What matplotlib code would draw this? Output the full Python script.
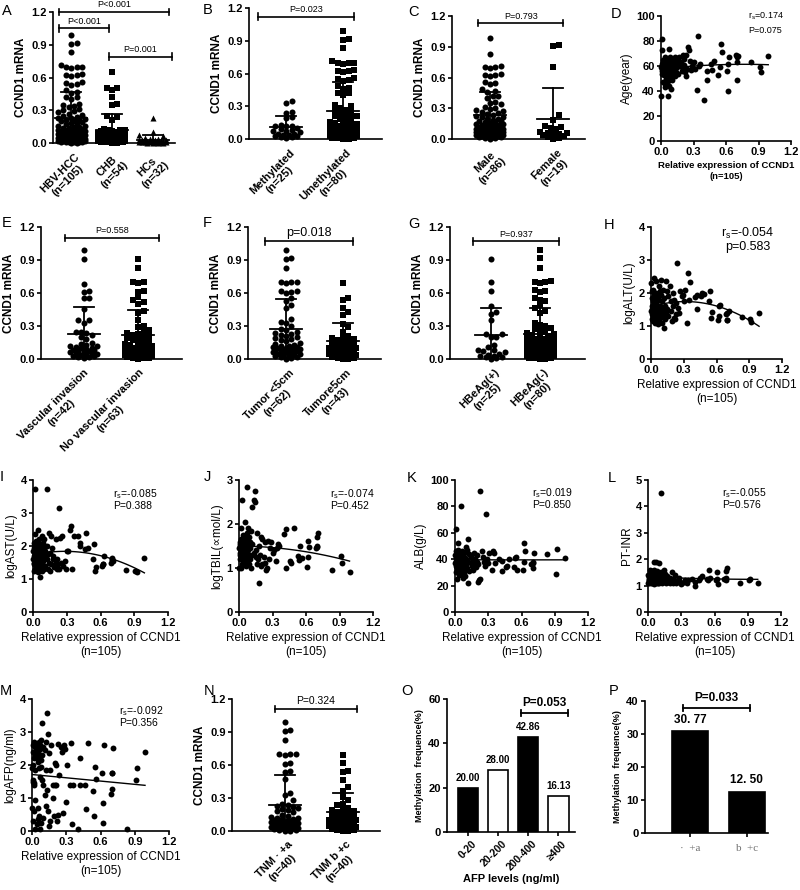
import numpy as np
import matplotlib.pyplot as plt
from matplotlib.transforms import ScaledTranslation

plt.rcParams['font.family'] = ['Liberation Sans', 'DejaVu Sans']
plt.rcParams['mathtext.default'] = 'regular'

# relative CCND1 expression of the 105 HBV-HCC tissues (x of all correlation panels)
ccnd1 = [0.99, 0.92, 0.91, 0.83, 0.71, 0.70, 0.70, 0.69, 0.70, 0.62,
         0.63, 0.61, 0.62, 0.55, 0.56, 0.54, 0.53, 0.49, 0.47, 0.46,
         0.42, 0.42, 0.40, 0.36, 0.35, 0.34, 0.33, 0.31, 0.30, 0.29,
         0.28, 0.27, 0.26, 0.25, 0.24, 0.23, 0.23, 0.22, 0.21, 0.21,
         0.20, 0.20, 0.19, 0.18, 0.18, 0.17, 0.16, 0.16, 0.15, 0.15,
         0.14, 0.14, 0.13, 0.13, 0.12, 0.12, 0.12, 0.11, 0.11, 0.10,
         0.10, 0.10, 0.09, 0.09, 0.09, 0.08, 0.08, 0.08, 0.08, 0.07,
         0.07, 0.07, 0.07, 0.06, 0.06, 0.06, 0.06, 0.05, 0.05, 0.05,
         0.05, 0.05, 0.04, 0.04, 0.04, 0.04, 0.04, 0.03, 0.03, 0.03,
         0.03, 0.03, 0.02, 0.02, 0.02, 0.02, 0.02, 0.01, 0.01, 0.01,
         0.01, 0.01, 0.01, 0.00, 0.00]

age = [68, 55, 59, 63, 68, 63, 49, 69, 67, 40,
       67, 56, 62, 78, 71, 59, 53, 64, 57, 62,
       49, 56, 33, 62, 60, 84, 41, 58, 63, 60,
       57, 64, 73, 75, 58, 52, 69, 55, 61, 66,
       58, 69, 56, 60, 63, 67, 54, 62, 59, 66,
       55, 61, 67, 52, 64, 58, 60, 53, 66, 57,
       63, 49, 59, 42, 65, 56, 61, 54, 67, 44,
       74, 60, 52, 57, 36, 63, 48, 55, 65, 50,
       58, 62, 46, 60, 67, 54, 43, 59, 64, 53,
       57, 61, 47, 65, 55, 60, 63, 73, 58, 54,
       82, 62, 56, 36, 59]

log_alt = [1.38, 1.12, 1.20, 1.27, 1.45, 1.40, 1.17, 1.35, 1.18, 1.30,
           1.65, 1.18, 1.62, 1.25, 1.42, 2.07, 1.75, 1.97, 2.00, 1.90,
           1.50, 1.95, 1.88, 2.32, 1.80, 2.60, 1.10, 2.10, 1.75, 1.95,
           1.90, 2.05, 1.40, 1.55, 2.90, 1.70, 1.35, 1.20, 1.80, 1.25,
           1.60, 2.00, 1.15, 1.45, 1.75, 2.20, 1.30, 1.90, 1.50, 2.05,
           1.40, 2.35, 1.20, 1.60, 1.85, 0.95, 1.45, 2.10, 1.30, 1.75,
           1.50, 1.10, 2.40, 1.35, 1.95, 1.25, 1.60, 1.45, 2.05, 1.15,
           1.80, 1.40, 2.20, 1.05, 1.55, 1.90, 1.30, 1.70, 2.35, 1.20,
           1.45, 2.00, 1.35, 1.65, 1.10, 1.85, 1.50, 2.45, 1.25, 1.70,
           1.95, 1.40, 1.60, 1.15, 2.10, 1.30, 1.75, 1.50, 2.05, 1.35,
           1.85, 1.20, 1.60, 2.30, 1.45]

log_ast = [1.65, 1.20, 1.25, 1.28, 1.55, 1.65, 1.60, 1.50, 1.58, 1.45,
           1.70, 1.40, 1.45, 1.25, 1.35, 2.05, 1.60, 1.95, 2.40, 1.90,
           2.10, 2.00, 2.30, 2.30, 1.30, 2.60, 2.50, 1.85, 1.85, 1.30,
           1.55, 1.40, 2.30, 1.50, 2.25, 3.15, 1.30, 1.45, 1.60, 1.30,
           1.50, 2.20, 1.35, 1.60, 1.70, 1.95, 1.45, 2.30, 1.25, 1.80,
           2.40, 1.50, 1.75, 1.30, 2.00, 3.72, 1.60, 1.85, 1.40, 2.20,
           1.70, 1.30, 1.95, 1.55, 2.10, 1.45, 1.80, 1.25, 2.30, 1.65,
           1.50, 1.90, 1.35, 2.05, 1.60, 1.05, 1.75, 1.40, 2.20, 1.55,
           1.85, 1.30, 2.50, 1.65, 1.45, 2.00, 1.20, 1.75, 1.55, 2.15,
           1.40, 1.90, 1.60, 3.72, 1.30, 1.80, 2.35, 1.50, 1.25, 1.95,
           1.70, 2.10, 1.45, 1.60, 1.85]

log_tbil = [0.92, 1.12, 1.28, 0.96, 1.80, 1.70, 1.48, 1.45, 1.50, 1.62,
            1.47, 1.02, 1.25, 1.50, 1.22, 1.18, 1.28, 1.90, 1.12, 1.15,
            1.88, 1.00, 1.78, 1.50, 1.55, 1.45, 1.15, 1.40, 1.35, 1.60,
            1.45, 1.20, 1.62, 1.00, 0.95, 1.60, 1.12, 1.25, 1.65, 1.10,
            1.70, 1.05, 1.30, 0.65, 1.50, 1.20, 1.80, 1.10, 1.40, 1.25,
            2.75, 2.50, 2.55, 1.35, 1.55, 2.38, 1.30, 1.85, 1.00, 1.60,
            1.45, 1.20, 1.70, 1.30, 1.10, 1.90, 1.40, 1.55, 1.25, 1.65,
            2.85, 1.35, 1.80, 1.15, 1.50, 1.05, 1.45, 1.70, 1.30, 1.25,
            1.60, 2.05, 1.40, 1.20, 1.50, 1.35, 1.75, 1.10, 1.55, 1.30,
            2.55, 1.45, 1.25, 1.65, 1.00, 1.40, 1.90, 1.30, 1.50, 1.60,
            1.35, 1.20, 1.55, 1.00, 1.45]

alb = [41, 48, 29, 44, 45, 38, 33, 36, 37, 52,
       46, 32, 38, 42, 32, 41, 34, 40, 35, 34,
       39, 31, 40, 37, 45, 46, 32, 45, 37, 40,
       74, 35, 38, 42, 46, 92, 25, 24, 23, 36,
       43, 38, 34, 40, 36, 45, 32, 39, 41, 35,
       42, 37, 31, 44, 22, 55, 38, 47, 33, 40,
       36, 49, 27, 41, 39, 34, 45, 30, 38, 43,
       35, 40, 26, 46, 37, 33, 42, 29, 38, 44,
       39, 80, 31, 41, 36, 45, 28, 40, 34, 47,
       38, 52, 33, 42, 36, 25, 44, 39, 46, 63,
       41, 35, 30, 43, 37]

pt_inr = [1.08, 1.25, 1.20, 1.10, 1.65, 1.55, 1.20, 1.25, 1.30, 1.50,
          1.05, 1.20, 1.25, 1.60, 1.30, 1.20, 1.25, 1.35, 1.30, 1.20,
          1.00, 1.15, 1.25, 1.20, 1.10, 1.15, 1.20, 1.10, 1.05, 1.15,
          1.30, 1.20, 1.15, 1.10, 1.40, 1.25, 1.10, 1.50, 1.20, 1.15,
          1.30, 1.10, 1.20, 1.25, 1.15, 1.35, 1.10, 1.20, 1.45, 1.25,
          1.60, 1.20, 1.30, 1.10, 1.50, 4.50, 1.15, 1.25, 1.35, 1.10,
          1.20, 1.85, 1.30, 1.10, 1.40, 1.15, 1.25, 1.55, 1.10, 1.30,
          1.20, 1.90, 1.15, 1.35, 1.10, 1.45, 1.25, 1.05, 1.30, 1.60,
          1.15, 1.90, 1.25, 1.40, 1.10, 1.20, 1.55, 1.30, 1.15, 1.35,
          1.20, 1.10, 1.30, 1.45, 1.15, 1.25, 1.60, 1.10, 1.20, 1.35,
          1.15, 1.30, 1.20, 1.10, 1.40]

log_afp = [2.38, 1.92, 1.55, 0.07, 2.52, 1.77, 1.27, 1.12, 1.77, 0.85,
           2.60, 1.75, 0.25, 1.93, 1.58, 0.45, 1.20, 2.68, 0.68, 1.40,
           2.22, 1.38, 0.07, 1.40, 0.22, 2.68, 1.40, 2.00, 0.88, 2.50,
           2.60, 0.55, 2.40, 2.55, 1.70, 0.50, 2.65, 0.30, 2.00, 1.40,
           1.38, 2.05, 0.45, 1.38, 1.00, 2.60, 0.30, 1.85, 0.15, 2.35,
           0.60, 2.95, 1.25, 3.58, 2.70, 0.75, 1.85, 2.45, 1.10, 0.40,
           2.55, 1.40, 3.28, 1.55, 2.30, 2.15, 0.25, 2.75, 1.95, 1.65,
           2.60, 2.50, 0.05, 2.25, 0.45, 1.90, 2.70, 0.35, 2.40, 2.50,
           0.70, 2.10, 2.20, 2.45, 0.20, 2.60, 2.65, 0.95, 2.30, 0.05,
           1.85, 2.55, 1.40, 1.45, 2.20, 0.60, 2.70, 1.50, 2.40, 0.30,
           2.00, 1.55, 2.62, 0.70, 1.90]

# CCND1 mRNA of control groups
chb = [0.65, 0.50, 0.49, 0.50, 0.42, 0.36, 0.35, 0.25, 0.24, 0.21,
       0.12, 0.11, 0.10, 0.09, 0.08, 0.13, 0.12, 0.12, 0.11, 0.10,
       0.10, 0.09, 0.09, 0.08, 0.08, 0.07, 0.07, 0.07, 0.06, 0.06,
       0.06, 0.05, 0.05, 0.05, 0.05, 0.04, 0.04, 0.04, 0.04, 0.03,
       0.03, 0.03, 0.03, 0.02, 0.02, 0.02, 0.02, 0.02, 0.01, 0.01,
       0.01, 0.01, 0.00, 0.00]
hcs = [0.23, 0.10, 0.07, 0.06, 0.05, 0.04, 0.04, 0.03, 0.03, 0.03,
       0.03, 0.03, 0.02, 0.02, 0.02, 0.02, 0.02, 0.02, 0.02, 0.02,
       0.01, 0.01, 0.01, 0.01, 0.01, 0.01, 0.01, 0.01, 0.00, 0.00,
       0.00, 0.00]

# subgroups of the HBV-HCC patients
methylated = [0.35, 0.33, 0.25, 0.24, 0.20, 0.19, 0.13, 0.12, 0.12, 0.12,
              0.10, 0.09, 0.08, 0.07, 0.07, 0.06, 0.05, 0.05, 0.04, 0.04,
              0.03, 0.03, 0.02, 0.02, 0.01]
unmethylated = [0.99, 0.92, 0.91, 0.83, 0.71, 0.70, 0.70, 0.69, 0.70, 0.62,
                0.63, 0.61, 0.62, 0.55, 0.56, 0.54, 0.53, 0.49, 0.47, 0.46,
                0.42, 0.42, 0.40, 0.31, 0.30, 0.28, 0.27, 0.26, 0.25, 0.23,
                0.22, 0.21, 0.21, 0.20, 0.18, 0.17, 0.16, 0.15, 0.15, 0.14,
                0.14, 0.13, 0.13, 0.12, 0.11, 0.11, 0.10, 0.10, 0.09, 0.09,
                0.08, 0.08, 0.08, 0.07, 0.07, 0.07, 0.06, 0.06, 0.06, 0.06,
                0.05, 0.05, 0.05, 0.04, 0.04, 0.04, 0.04, 0.03, 0.03, 0.03,
                0.03, 0.02, 0.02, 0.02, 0.02, 0.01, 0.01, 0.01, 0.00, 0.00]
male = [0.99, 0.83, 0.71, 0.70, 0.69, 0.70, 0.62, 0.63, 0.61, 0.62,
        0.55, 0.56, 0.54, 0.49, 0.47, 0.46, 0.42, 0.42, 0.40, 0.36,
        0.35, 0.34, 0.31, 0.30, 0.29, 0.28, 0.27, 0.26, 0.25, 0.24,
        0.23, 0.22, 0.21, 0.21, 0.20, 0.20, 0.19, 0.18, 0.18, 0.17,
        0.16, 0.16, 0.15, 0.15, 0.14, 0.14, 0.13, 0.13, 0.12, 0.12,
        0.12, 0.11, 0.11, 0.10, 0.10, 0.09, 0.09, 0.09, 0.08, 0.08,
        0.08, 0.08, 0.07, 0.07, 0.07, 0.07, 0.06, 0.06, 0.06, 0.05,
        0.05, 0.05, 0.05, 0.04, 0.04, 0.04, 0.04, 0.03, 0.03, 0.03,
        0.02, 0.02, 0.02, 0.01, 0.01, 0.00]
female = [0.92, 0.91, 0.70, 0.23, 0.19, 0.13, 0.12, 0.11, 0.10, 0.07,
          0.06, 0.06, 0.05, 0.05, 0.04, 0.03, 0.02, 0.01, 0.00]
vasc_inv = [0.99, 0.91, 0.68, 0.62, 0.61, 0.55, 0.55, 0.45, 0.35, 0.35,
            0.33, 0.25, 0.25, 0.24, 0.22, 0.20, 0.18, 0.15, 0.14, 0.13,
            0.12, 0.12, 0.11, 0.10, 0.10, 0.09, 0.08, 0.08, 0.07, 0.07,
            0.06, 0.06, 0.05, 0.05, 0.05, 0.04, 0.04, 0.03, 0.03, 0.02,
            0.02, 0.01]
no_vasc_inv = [0.91, 0.83, 0.70, 0.70, 0.69, 0.62, 0.61, 0.56, 0.54, 0.52,
               0.50, 0.44, 0.42, 0.35, 0.29, 0.30, 0.26, 0.25, 0.24, 0.23,
               0.22, 0.21, 0.20, 0.19, 0.18, 0.17, 0.16, 0.15, 0.14, 0.13,
               0.13, 0.12, 0.12, 0.11, 0.10, 0.10, 0.09, 0.09, 0.08, 0.08,
               0.08, 0.07, 0.07, 0.07, 0.06, 0.06, 0.06, 0.05, 0.05, 0.05,
               0.04, 0.04, 0.04, 0.03, 0.03, 0.03, 0.02, 0.02, 0.02, 0.01,
               0.01, 0.01, 0.00]
tumor_small = [0.99, 0.92, 0.91, 0.83, 0.70, 0.70, 0.70, 0.69, 0.62, 0.62,
               0.61, 0.60, 0.55, 0.53, 0.49, 0.46, 0.36, 0.34, 0.33, 0.30,
               0.27, 0.26, 0.25, 0.24, 0.23, 0.22, 0.21, 0.20, 0.19, 0.18,
               0.17, 0.16, 0.15, 0.14, 0.13, 0.12, 0.12, 0.11, 0.11, 0.10,
               0.10, 0.09, 0.09, 0.08, 0.08, 0.08, 0.07, 0.07, 0.07, 0.06,
               0.06, 0.06, 0.05, 0.05, 0.04, 0.04, 0.03, 0.03, 0.02, 0.02,
               0.01, 0.00]
tumor_large = [0.69, 0.55, 0.54, 0.46, 0.43, 0.40, 0.32, 0.29, 0.25, 0.21,
               0.20, 0.19, 0.18, 0.17, 0.16, 0.15, 0.14, 0.13, 0.12, 0.12,
               0.11, 0.10, 0.10, 0.09, 0.09, 0.08, 0.08, 0.07, 0.07, 0.06,
               0.06, 0.05, 0.05, 0.04, 0.04, 0.03, 0.03, 0.02, 0.02, 0.01,
               0.01, 0.00, 0.00]
hbeag_pos = [0.91, 0.70, 0.62, 0.48, 0.43, 0.41, 0.35, 0.23, 0.23, 0.20,
             0.20, 0.13, 0.11, 0.08, 0.08, 0.07, 0.06, 0.05, 0.04, 0.03,
             0.03, 0.02, 0.02, 0.01, 0.00]
hbeag_neg = [0.99, 0.92, 0.83, 0.71, 0.70, 0.69, 0.70, 0.63, 0.62, 0.61,
             0.55, 0.54, 0.53, 0.49, 0.46, 0.44, 0.42, 0.33, 0.31, 0.30,
             0.28, 0.27, 0.26, 0.25, 0.24, 0.23, 0.22, 0.21, 0.21, 0.20,
             0.19, 0.18, 0.18, 0.17, 0.16, 0.16, 0.15, 0.15, 0.14, 0.14,
             0.13, 0.13, 0.12, 0.12, 0.12, 0.11, 0.11, 0.10, 0.10, 0.10,
             0.09, 0.09, 0.09, 0.08, 0.08, 0.08, 0.07, 0.07, 0.07, 0.06,
             0.06, 0.06, 0.05, 0.05, 0.05, 0.05, 0.04, 0.04, 0.04, 0.03,
             0.03, 0.03, 0.02, 0.02, 0.02, 0.01, 0.01, 0.01, 0.00, 0.00]
tnm_a = [0.99, 0.92, 0.91, 0.83, 0.70, 0.70, 0.70, 0.69, 0.62, 0.61,
         0.55, 0.54, 0.47, 0.35, 0.33, 0.28, 0.25, 0.24, 0.23, 0.22,
         0.21, 0.20, 0.19, 0.18, 0.17, 0.15, 0.14, 0.13, 0.12, 0.12,
         0.11, 0.11, 0.10, 0.10, 0.09, 0.09, 0.08, 0.08, 0.08, 0.07,
         0.07, 0.07, 0.06, 0.06, 0.06, 0.05, 0.05, 0.05, 0.04, 0.04,
         0.04, 0.03, 0.03, 0.03, 0.02, 0.02, 0.01, 0.01, 0.00, 0.00]
tnm_bc = [0.69, 0.62, 0.55, 0.54, 0.46, 0.40, 0.36, 0.31, 0.28, 0.25,
          0.24, 0.21, 0.20, 0.19, 0.18, 0.17, 0.16, 0.15, 0.14, 0.13,
          0.12, 0.12, 0.11, 0.10, 0.10, 0.09, 0.09, 0.08, 0.08, 0.07,
          0.07, 0.06, 0.06, 0.05, 0.05, 0.04, 0.04, 0.03, 0.03, 0.02,
          0.02, 0.01, 0.01, 0.00, 0.00]

# methylation frequency (%)
afp_levels = ['0-20', '20-200', '200-400', '≥400']
afp_freq = [20.00, 28.00, 42.86, 16.13]
afp_fill = ['black', 'white', 'black', 'white']
tnm_stage = ['·  +a', 'b  +c']
tnm_freq = [30.77, 12.50]
tnm_labels = ['30. 77', '12. 50']

W, H = 800, 890
fig = plt.figure(figsize=(8, 8.9), dpi=100)


def rect(x0, y0, x1, y1):
    # pixel box (top-left origin) -> figure fraction
    return [x0 / W, 1 - y1 / H, (x1 - x0) / W, (y1 - y0) / H]


def ftext(x, y, s, **kw):
    kw.setdefault('va', 'top')
    fig.text(x / W, 1 - y / H, s, **kw)


def clean(ax):
    ax.spines[['top', 'right']].set_visible(False)
    ax.spines[['left', 'bottom']].set_linewidth(1.2)
    ax.tick_params(width=1.2, length=3, labelsize=8, pad=1.5)


def shift_labels(ax, dx, dy):
    off = ScaledTranslation(dx / 100, dy / 100, fig.dpi_scale_trans)
    for lab in ax.get_xticklabels():
        lab.set_transform(lab.get_transform() + off)


def swarm_x(ax, xc, vals, d, maxw):
    # crude beeswarm: pixel space, nearest free slot to the column centre
    t = ax.transData
    ypx = t.transform(np.column_stack([np.full(len(vals), xc), vals]))[:, 1]
    sx = t.transform((1, 0))[0] - t.transform((0, 0))[0]
    step = d * 0.5
    cands = [0.0]
    k = 1
    while k * step <= maxw:
        cands += [k * step, -k * step]
        k += 1
    px, py = [], []
    off = np.zeros(len(vals))
    for i in np.argsort(ypx):
        y = ypx[i]
        best, bestd = 0.0, -1.0
        for c in cands:
            dist = np.min(np.hypot(np.array(px) - c, np.array(py) - y)) if px else np.inf
            if dist >= d:
                best = c
                break
            if dist > bestd:
                best, bestd = c, dist
        off[i] = best
        px.append(best)
        py.append(y)
    return xc + off / sx, sx


def dotplot(box, xlim, groups, markers, labels, brackets, pfs=6.5, dx=3):
    ax = fig.add_axes(rect(*box))
    clean(ax)
    ax.set_xlim(*xlim)
    ax.set_ylim(0, 1.2)
    yt = [0, 0.3, 0.6, 0.9, 1.2]
    ax.set_yticks(yt, [f'{v:.1f}' for v in yt], fontweight='bold')
    ax.set_xticks(range(len(groups)), labels, rotation=45, ha='right',
                  rotation_mode='anchor', ma='center', fontweight='bold', fontsize=8)
    ax.tick_params(axis='x', length=0, pad=6)
    shift_labels(ax, dx, 0)
    ax.set_ylabel('CCND1 mRNA', fontweight='bold', fontsize=8.5, labelpad=3)
    for i, (vals, m) in enumerate(zip(groups, markers)):
        v = np.array(vals)
        xs, sx = swarm_x(ax, i, v, 5.4, 15)
        ax.scatter(xs, v, s=19, marker=m, c='black', lw=0, clip_on=False, zorder=3)
        mu, sd = v.mean(), v.std(ddof=1)
        hm, hc = 16 / sx, 10 / sx
        ax.plot([i - hm, i + hm], [mu, mu], 'k', lw=1.3, zorder=4)
        ax.plot([i, i], [max(mu - sd, 0), mu + sd], 'k', lw=1.3, zorder=4)
        ax.plot([i - hc, i + hc], [mu + sd] * 2, 'k', lw=1.3, zorder=4)
    for x0, x1, yb, txt in brackets:
        ax.plot([x0, x1], [yb, yb], 'k', lw=1.2, clip_on=False)
        for xe in (x0, x1):
            ax.plot([xe, xe], [yb - 0.03, yb + 0.03], 'k', lw=1.2, clip_on=False)
        ax.text((x0 + x1) / 2, yb + 0.025, txt, ha='center', va='bottom', fontsize=pfs)
    return ax


def corr_panel(box, y, ylim, yticks, ylabel, deg=2, xlab_fs=8.5, xlab_bold=False):
    ax = fig.add_axes(rect(*box))
    clean(ax)
    ax.set_xlim(0, 1.2)
    ax.set_ylim(*ylim)
    xt = [0, 0.3, 0.6, 0.9, 1.2]
    ax.set_xticks(xt, [f'{v:.1f}' for v in xt], fontweight='bold')
    ax.set_yticks(yticks, [str(t) for t in yticks], fontweight='bold')
    x = np.array(ccnd1)
    yv = np.array(y, dtype=float)
    ax.scatter(x, yv, s=18, c='black', lw=0, clip_on=False, zorder=3)
    coef = np.polyfit(x, yv, deg)
    xf = np.linspace(x.min(), x.max(), 100)
    ax.plot(xf, np.polyval(coef, xf), 'k', lw=1.0, zorder=4)
    ax.set_ylabel(ylabel, fontsize=8.5, labelpad=2)
    ax.set_xlabel('Relative expression of CCND1\n(n=105)', fontsize=xlab_fs, labelpad=3,
                  fontweight='bold' if xlab_bold else 'normal')
    return ax


# ---- row 1
dotplot((53, 12, 175, 143), (-0.45, 2.55), [ccnd1, chb, hcs], ['o', 's', '^'],
        ['HBV-HCC\n(n=105)', 'CHB\n(n=54)', 'HCs\n(n=32)'],
        [(-0.3, 2.4, 1.2, 'P<0.001'), (-0.3, 0.92, 1.05, 'P<0.001'), (0.92, 2.48, 0.79, 'P=0.001')])
dotplot((249, 8, 382, 139), (-0.65, 1.68), [methylated, unmethylated], ['o', 's'],
        ['Methylated\n(n=25)', 'Umethylated\n(n=80)'], [(-0.49, 1.19, 1.12, 'P=0.023')])
dotplot((452, 16, 585, 139), (-0.6, 1.5), [male, female], ['o', 's'],
        ['Male\n(n=86)', 'Female\n(n=19)'], [(-0.19, 1.16, 1.13, 'P=0.793')])
corr_panel((661, 16, 791, 141), age, (0, 100), [0, 20, 40, 60, 80, 100], 'Age(year)',
           xlab_fs=6.8, xlab_bold=True)
ftext(748, 11, 'r$_s$=0.174', fontsize=6.5)
ftext(748, 26, 'P=0.075', fontsize=6.5)

# ---- row 2
dotplot((41, 227, 182, 359), (-0.78, 1.8), [vasc_inv, no_vasc_inv], ['o', 's'],
        ['Vascular invasion\n(n=42)', 'No vascular invasion\n(n=63)'],
        [(-0.35, 1.38, 1.10, 'P=0.558')], dx=0)
dotplot((248, 227, 381, 359), (-0.67, 1.67), [tumor_small, tumor_large], ['o', 's'],
        ['Tumor <5cm\n(n=62)', 'Tumore5cm\n(n=43)'], [(-0.37, 1.18, 1.07, 'p=0.018')], pfs=9)
dotplot((450, 227, 585, 359), (-0.84, 1.92), [hbeag_pos, hbeag_neg], ['o', 's'],
        ['HBeAg(+)\n(n=25)', 'HBeAg(-)\n(n=80)'], [(-0.37, 1.39, 1.07, 'P=0.937')])
corr_panel((651, 227, 782, 359), log_alt, (0, 4), [0, 1, 2, 3, 4], 'logALT(U/L)')
ftext(748, 226, 'r$_s$=-0.054\np=0.583', fontsize=9, ha='center', linespacing=1.0)

# ---- row 3
corr_panel((33, 480, 168, 612), log_ast, (0, 4), [0, 1, 2, 3, 4], 'logAST(U/L)')
ftext(113, 487, 'r$_s$=-0.085\nP=0.388', fontsize=7.5, linespacing=1.05)
corr_panel((239, 480, 373, 612), log_tbil, (0, 3), [0, 1, 2, 3], 'logTBIL(∝mol/L)')
ftext(330, 487, 'r$_s$=-0.074\nP=0.452', fontsize=7.5, linespacing=1.05)
corr_panel((455, 480, 588, 612), alb, (0, 100), [0, 20, 40, 60, 80, 100], 'ALB(g/L)')
ftext(532, 486, 'r$_s$=0.019\nP=0.850', fontsize=7.5, linespacing=1.05)
corr_panel((648, 480, 781, 612), pt_inr, (0, 5), [0, 1, 2, 3, 4, 5], 'PT-INR')
ftext(722, 486, 'r$_s$=-0.055\nP=0.576', fontsize=7.5, linespacing=1.05)

# ---- row 4
corr_panel((32, 699, 169, 831), log_afp, (0, 4), [0, 1, 2, 3, 4], 'logAFP(ng/ml)', deg=1)
ftext(119, 704, 'r$_s$=-0.092\nP=0.356', fontsize=7.5, linespacing=1.05)
dotplot((232, 699, 380, 831), (-0.91, 1.64), [tnm_a, tnm_bc], ['o', 's'],
        ['TNM · +a\n(n=40)', 'TNM b +c\n(n=40)'], [(-0.17, 1.24, 1.11, 'P=0.324')], pfs=7.5)

axO = fig.add_axes(rect(447, 699, 575, 832))
clean(axO)
axO.bar(range(4), afp_freq, width=0.67, color=afp_fill, edgecolor='black', lw=1.2, zorder=3)
axO.set_xlim(-0.7, 3.55)
axO.set_ylim(0, 60)
axO.set_yticks([0, 20, 40, 60], ['0', '20', '40', '60'], fontweight='bold')
axO.set_xticks(range(4), afp_levels, rotation=45, ha='right', rotation_mode='anchor',
               fontweight='bold', fontsize=7.5)
axO.tick_params(axis='x', pad=2)
shift_labels(axO, 3, 0)
for i, v in enumerate(afp_freq):
    axO.text(i, v + 2.2, f'{v:.2f}', ha='center', va='bottom', fontsize=7, fontweight='bold')
axO.plot([1.75, 3.33], [53.7, 53.7], 'k', lw=1.3, clip_on=False)
for xe in (1.75, 3.33):
    axO.plot([xe, xe], [52.2, 55.2], 'k', lw=1.3, clip_on=False)
axO.text(2.54, 55.5, 'P=0.053', ha='center', va='bottom', fontsize=8.5, fontweight='bold')
axO.set_ylabel('Methylation  frequence(%)', fontsize=6.5, fontweight='bold', labelpad=3)
axO.set_xlabel('AFP levels (ng/ml)', fontsize=8, fontweight='bold', labelpad=1)

axP = fig.add_axes(rect(645, 701, 768, 833))
clean(axP)
axP.bar(range(2), tnm_freq, width=0.63, color='black', edgecolor='black', lw=1.2, zorder=3)
axP.set_xlim(-0.79, 1.37)
axP.set_ylim(0, 40)
axP.set_yticks([0, 10, 20, 30, 40], ['0', '10', '20', '30', '40'], fontweight='bold')
axP.set_xticks(range(2), tnm_stage, fontsize=8, family='Liberation Serif', color='0.45')
axP.tick_params(axis='x', pad=5)
for i, (v, s) in enumerate(zip(tnm_freq, tnm_labels)):
    axP.text(i, v + 1.8, s, ha='center', va='bottom', fontsize=8.5, fontweight='bold')
axP.plot([-0.12, 1.05], [37.9, 37.9], 'k', lw=1.3, clip_on=False)
for xe in (-0.12, 1.05):
    axP.plot([xe, xe], [36.9, 38.9], 'k', lw=1.3, clip_on=False)
axP.text(0.46, 39.2, 'P=0.033', ha='center', va='bottom', fontsize=8.5, fontweight='bold')
axP.set_ylabel('Methylation  frequence(%)', fontsize=6.5, fontweight='bold', labelpad=3)

# panel letters
for s, x, y in [('A', 2, 4), ('B', 203, 3), ('C', 408, 5), ('D', 611, 7),
                ('E', 2, 216), ('F', 203, 216), ('G', 408, 217), ('H', 604, 218),
                ('I', 0, 470), ('J', 204, 470), ('K', 407, 471), ('L', 608, 471),
                ('M', 0, 684), ('N', 204, 684), ('O', 401, 684), ('P', 609, 684)]:
    ftext(x, y, s, fontsize=10.5)

fig.savefig('out.png', dpi=100)
